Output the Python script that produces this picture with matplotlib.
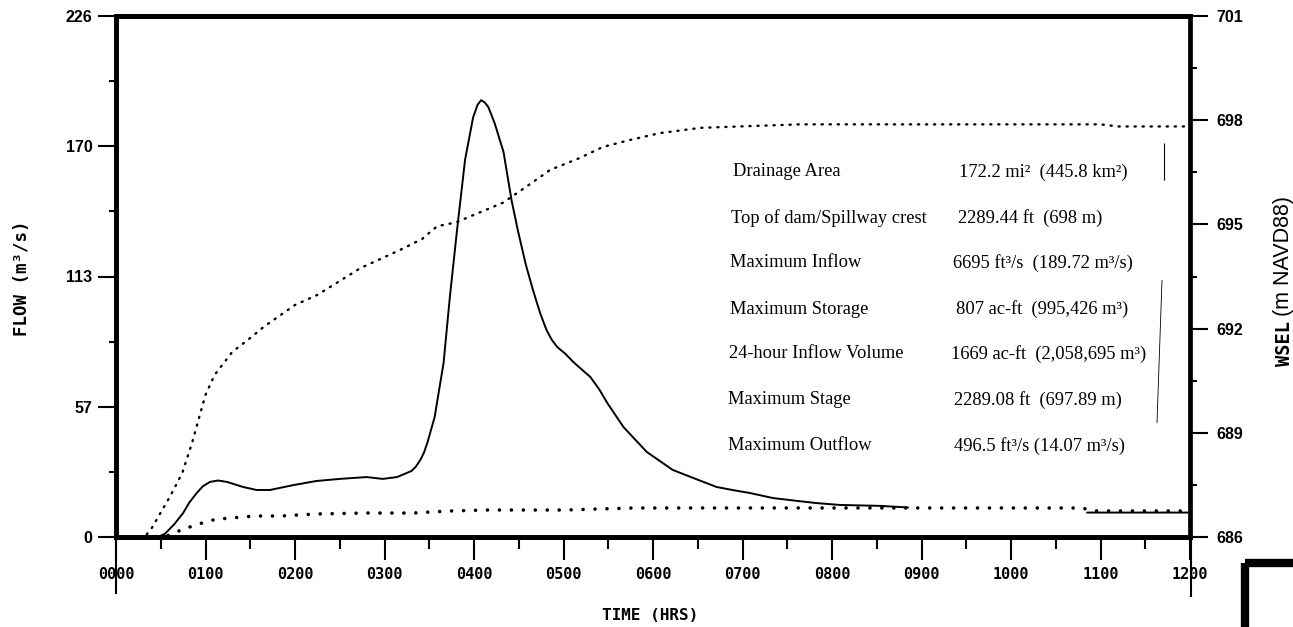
import numpy as np
import matplotlib.pyplot as plt
from matplotlib.lines import Line2D

# inflow hydrograph, time (hrs) vs flow (m3/s)
t_in = [0, 0.47, 0.55, 0.65, 0.75, 0.82, 0.9, 0.97, 1.05, 1.14, 1.24, 1.42,
        1.57, 1.72, 1.98, 2.24, 2.5, 2.8, 2.98, 3.14, 3.3, 3.35, 3.40, 3.44,
        3.48, 3.56, 3.66, 3.73, 3.81, 3.90, 3.99, 4.04, 4.08, 4.12, 4.16,
        4.23, 4.33, 4.42, 4.49, 4.58, 4.66, 4.74, 4.81, 4.87, 4.93, 5.02,
        5.11, 5.2, 5.30, 5.4, 5.49, 5.67, 5.93, 6.22, 6.45, 6.71, 6.9, 7.08,
        7.34, 7.6, 7.83, 8.09, 8.54, 8.85, 8.86, 10.85, 12.0]
q_in = [0, 0, 1.5, 5.5, 10.4, 15, 19, 22, 23.9, 24.5, 23.9, 21.7,
        20.4, 20.4, 22.5, 24.3, 25.2, 26, 25.2, 26, 28.6, 30.5, 33.4, 36.5,
        41, 52, 75.5, 104, 133, 163.6, 182, 187.5, 189.5, 188.5, 186.5,
        179.6, 167, 146, 133, 118, 107, 97, 89.8, 85.5, 82.4, 79.5,
        75.9, 72.8, 69.4, 64, 58.1, 47.7, 36.9, 29.1, 25.6, 21.7, 20.3, 19.1,
        16.9, 15.7, 14.7, 13.9, 13.5, 12.8, np.nan, 10.6, 10.6]

# outflow (m3/s)
t_out = [0.45, 0.63, 0.74, 0.87, 1.02, 1.14, 1.27, 1.42, 1.55, 1.83, 2.25, 2.8,
         3.32, 3.73, 4.15, 5.0, 5.8, 7.0, 8.0, 9.0, 10.0, 10.8, 10.9, 12.0]
q_out = [0, 0.9, 3.5, 4.8, 6.9, 7.8, 8.2, 8.7, 9.1, 9.1, 10.0, 10.4,
         10.4, 11.3, 11.7, 11.7, 12.6, 12.6, 12.6, 12.6, 12.6, 12.6, 11.3, 11.3]

# water surface elevation (m NAVD88)
t_ws = [0, 0.32, 0.40, 0.60, 0.74, 0.85, 0.93, 1.0, 1.1, 1.3, 1.5, 1.65, 2.0,
        2.25, 2.73, 3.17, 3.42, 3.51, 3.59, 3.71, 3.81, 4.32, 4.48, 4.77, 4.85,
        5.18, 5.44, 5.74, 6.08, 6.53, 7.08, 7.64, 11.0, 11.2, 12.0]
wsel = [686, 686, 686.26, 687.15, 687.84, 688.71, 689.45, 690.09, 690.66,
        691.33, 691.73, 692.05, 692.68, 692.97, 693.74, 694.26, 694.58, 694.78,
        694.95, 695.01, 695.07, 695.62, 695.9, 696.42, 696.57, 696.91, 697.23,
        697.43, 697.63, 697.78, 697.83, 697.88, 697.88, 697.82, 697.82]

xticks = list(range(0, 13))
xlabels = ['%02d00' % h for h in xticks]
flow_ticks = [0, 56.5, 113, 169.5, 226]
flow_labels = ['0', '57', '113', '170', '226']
wsel_ticks = [686, 689, 692, 695, 698, 701]

info_names = ['Drainage Area', 'Top of dam/Spillway crest', 'Maximum Inflow',
              'Maximum Storage', '24-hour Inflow Volume', 'Maximum Stage',
              'Maximum Outflow']
info_values = ['172.2 mi\u00b2  (445.8 km\u00b2)', '2289.44 ft  (698 m)',
               '6695 ft\u00b3/s  (189.72 m\u00b3/s)', '807 ac-ft  (995,426 m\u00b3)',
               '1669 ac-ft  (2,058,695 m\u00b3)', '2289.08 ft  (697.89 m)',
               '496.5 ft\u00b3/s (14.07 m\u00b3/s)']

W, H = 1293, 627
mono = 'DejaVu Sans Mono'
sans = 'Liberation Sans'
serif = 'Liberation Serif'


def fx(x):
    return x / W


def fy(y):
    return 1 - y / H


fig = plt.figure(figsize=(W / 100, H / 100), dpi=100)
ax = fig.add_axes([fx(116), fy(537), fx(1190) - fx(116), fy(16) - fy(537)])
ax2 = ax.twinx()

# curves
ax.plot(t_in, q_in, color='black', lw=1.4, solid_capstyle='round',
        solid_joinstyle='round')
ax.plot(t_out, q_out, color='black', lw=2.6, linestyle=(0, (0.01, 3.3)),
        dash_capstyle='round')
ax2.plot(t_ws, wsel, color='black', lw=1.7, linestyle=(0, (0.5, 2.9)),
         dash_capstyle='round')

ax.set_xlim(0, 12)
ax.set_ylim(0, 226)
ax2.set_ylim(686, 701)

# frame
for a in (ax, ax2):
    for s in a.spines.values():
        s.set_linewidth(3.4)
ax.spines['right'].set_visible(False)

ax.set_xticks(xticks)
ax.set_xticklabels(xlabels, fontfamily=mono, fontweight='bold', fontsize=11)
ax.set_xticks(np.arange(0.5, 12, 1), minor=True)
ax.tick_params(axis='x', which='major', direction='out', length=16.5, width=1.5, pad=5)
ax.tick_params(axis='x', which='minor', direction='out', length=8.5, width=1.5)

ax.set_yticks(flow_ticks)
ax.set_yticklabels(flow_labels, fontfamily=sans, fontweight='bold', fontsize=11.5)
ax.set_yticks(np.arange(28.25, 226, 56.5), minor=True)
ax.tick_params(axis='y', which='major', direction='out', length=13, width=1.5, pad=4)
ax.tick_params(axis='y', which='minor', direction='out', length=5, width=1.5)

ax2.set_yticks(wsel_ticks)
ax2.set_yticklabels([str(v) for v in wsel_ticks], fontfamily=sans,
                    fontweight='bold', fontsize=11.5)
ax2.set_yticks(np.arange(687.5, 701, 3), minor=True)
ax2.tick_params(axis='y', which='major', direction='out', length=13, width=1.5, pad=6)
ax2.tick_params(axis='y', which='minor', direction='out', length=5, width=1.5)

# axis titles
fig.text(fx(22), fy(278), 'FLOW (m\u00b3/s)', rotation=90, ha='center', va='center',
         fontfamily=mono, fontweight='bold', fontsize=12.5)
fig.text(fx(650), fy(616), 'TIME (HRS)', ha='center', va='center',
         fontfamily=mono, fontweight='bold', fontsize=11.5)
fig.text(fx(1284), fy(343), 'WSEL', rotation=90, ha='center', va='center',
         fontfamily=mono, fontweight='bold', fontsize=13.5)
fig.text(fx(1284), fy(256), '(m NAVD88)', rotation=90, ha='center', va='center',
         fontfamily=sans, fontsize=15.5)

# summary table
row_y = [172, 218, 263, 309, 354, 400, 446]
name_x = [733, 731, 730, 730, 729, 728, 728]
val_x = [959, 958, 953, 956, 951, 954, 954]
for i in range(len(info_names)):
    fig.text(fx(name_x[i]), fy(row_y[i]), info_names[i], ha='left', va='center',
             fontfamily=serif, fontsize=13.3)
    fig.text(fx(val_x[i]), fy(row_y[i]), info_values[i], ha='left', va='center',
             fontfamily=serif, fontsize=13.3)

# long end ticks at 0000 and 1200, scan marks
extra = [([116, 116], [537, 594], 1.5),
         ([1191, 1191], [537, 597], 1.5),
         ([1164, 1164], [143, 180], 0.8),
         ([1162, 1157], [280, 423], 0.6),
         ([1245, 1245], [627, 563], 6),
         ([1245, 1293], [563, 563], 6)]
for xs, ys, lw in extra:
    fig.add_artist(Line2D([fx(v) for v in xs], [fy(v) for v in ys],
                          color='black', lw=lw, solid_capstyle='butt'))

fig.savefig('out.png', dpi=100)
